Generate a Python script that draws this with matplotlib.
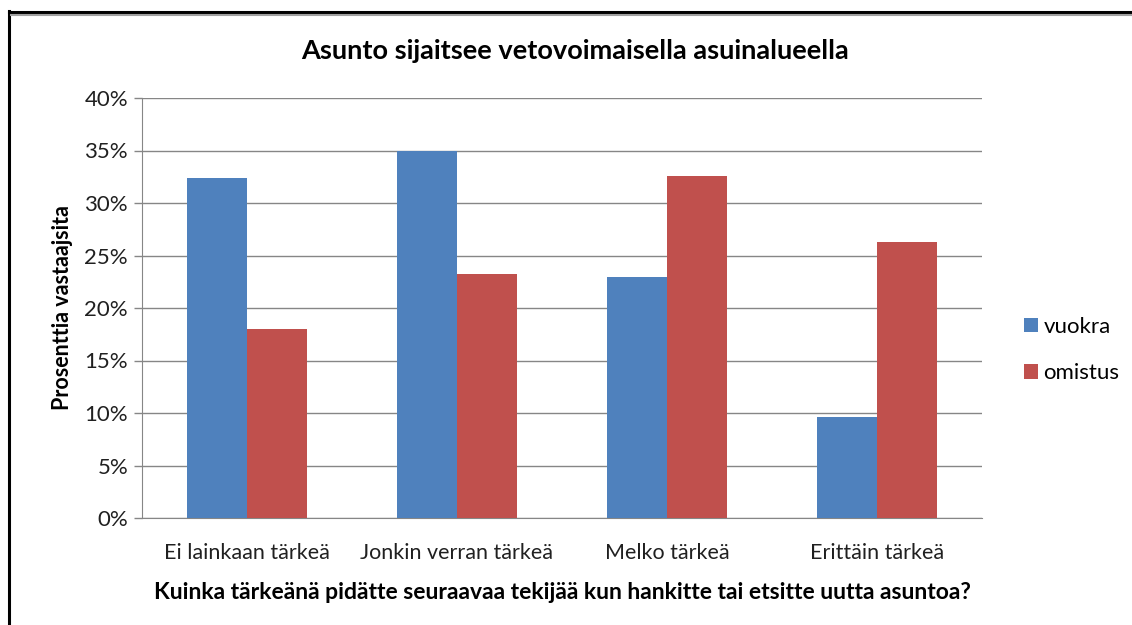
import matplotlib
matplotlib.use("Agg")
import matplotlib.pyplot as plt
from matplotlib.lines import Line2D
import numpy as np

categories = ["Ei lainkaan tärkeä", "Jonkin verran tärkeä", "Melko tärkeä", "Erittäin tärkeä"]
vuokra = [32.4, 35.0, 23.0, 9.6]
omistus = [18.0, 23.2, 32.6, 26.3]
series_names = ["vuokra", "omistus"]
yticks = [0, 5, 10, 15, 20, 25, 30, 35, 40]
ytick_labels = [f"{v}%" for v in yticks]

plt.rcParams['font.family'] = ['Lato', 'DejaVu Sans']

W, H = 1132, 625
fig = plt.figure(figsize=(W / 100, H / 100), dpi=100)
fig.patch.set_facecolor("white")

left, right, top, bottom = 142, 982, 98, 518
ax = fig.add_axes([left / W, 1 - bottom / H, (right - left) / W, (bottom - top) / H])

x = np.arange(len(categories))
bw = 0.288
ax.bar(x - bw / 2, vuokra, bw, color="#4F81BD", label=series_names[0], zorder=3)
ax.bar(x + bw / 2, omistus, bw, color="#C0504D", label=series_names[1], zorder=3)

ax.set_xlim(-0.5, len(categories) - 0.5)
ax.set_ylim(0, 40)
ax.set_yticks(yticks)
ax.set_yticklabels(ytick_labels, fontsize=16, color="#202020")
ax.set_xticks(x)
ax.set_xticklabels(categories, fontsize=15.5, color="#202020")
ax.tick_params(axis="y", length=6, color="#868686", width=1, pad=4)
ax.tick_params(axis="x", length=0, pad=18)
ax.grid(axis="y", color="#868686", linewidth=1, zorder=0)
for s in ["top", "right"]:
    ax.spines[s].set_visible(False)
ax.spines["left"].set_color("#868686")
ax.spines["bottom"].set_color("#868686")

ax.set_ylabel("Prosenttia vastaajsita", fontsize=15.5, fontweight="bold", labelpad=8)
ax.set_xlabel("Kuinka tärkeänä pidätte seuraavaa tekijää kun hankitte tai etsitte uutta asuntoa?",
              fontsize=16.5, fontweight="bold", labelpad=14)

fig.text(575 / W, 1 - 51 / H, "Asunto sijaitsee vetovoimaisella asuinalueella",
         ha="center", va="center", fontsize=19.5, fontweight="bold")

leg = ax.legend(loc="center left", bbox_to_anchor=(1.04, 0.40), frameon=False,
                fontsize=16, handlelength=0.6, handleheight=0.6, labelspacing=1.2,
                handletextpad=0.25, borderaxespad=0)

fig.add_artist(Line2D([9 / W, 9 / W], [0, 1 - 11 / H], transform=fig.transFigure,
                      color="black", linewidth=2.2))
fig.add_artist(Line2D([9 / W, 1], [1 - 12 / H, 1 - 12 / H], transform=fig.transFigure,
                      color="black", linewidth=2.2))
fig.add_artist(Line2D([11 / W, 1], [1 - 14.5 / H, 1 - 14.5 / H], transform=fig.transFigure,
                      color="#a0a0a0", linewidth=1.5))

fig.savefig("out.png", dpi=100, facecolor="white")
